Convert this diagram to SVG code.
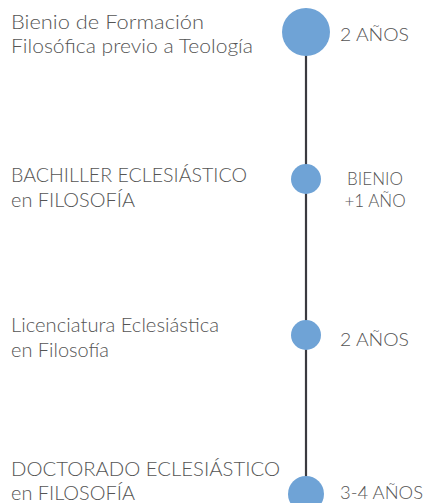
<svg xmlns="http://www.w3.org/2000/svg" width="426" height="503" viewBox="0 0 426 503">
<style>
.t{font-family:"Lato","Open Sans","Liberation Sans",sans-serif;font-weight:300;fill:#555555;font-size:19px}
.d{font-family:"Lato","Open Sans","Liberation Sans",sans-serif;font-weight:300;fill:#555555;font-size:17px}
.n{fill:#6fa3d6}
</style>
<rect width="426" height="503" fill="#ffffff"/>
<g id="connectors">
<line x1="306" y1="50" x2="306" y2="503" stroke="#3a3a40" stroke-width="2.2"/>
</g>
<g id="node1">
<circle class="n" cx="306" cy="32" r="24"/>
<text class="t" x="11" y="29" textLength="193" lengthAdjust="spacingAndGlyphs">Bienio de Formación</text>
<text class="t" x="11" y="53" textLength="242" lengthAdjust="spacingAndGlyphs">Filosófica previo a Teología</text>
<text class="d" x="340" y="41" textLength="69" lengthAdjust="spacingAndGlyphs">2 AÑOS</text>
</g>
<g id="node2">
<circle class="n" cx="306" cy="179" r="15"/>
<text class="t" x="11" y="182" textLength="236" lengthAdjust="spacingAndGlyphs">BACHILLER ECLESIÁSTICO</text>
<text class="t" x="11" y="207" textLength="124" lengthAdjust="spacingAndGlyphs">en FILOSOFÍA</text>
<text class="d" x="375" y="185" text-anchor="middle">BIENIO</text>
<text class="d" x="375" y="207" text-anchor="middle">+1 AÑO</text>
</g>
<g id="node3">
<circle class="n" cx="306" cy="335" r="15"/>
<text class="t" x="11" y="332" textLength="208" lengthAdjust="spacingAndGlyphs">Licenciatura Eclesiástica</text>
<text class="t" x="11" y="357" textLength="98" lengthAdjust="spacingAndGlyphs">en Filosofía</text>
<text class="d" x="340" y="346" textLength="69" lengthAdjust="spacingAndGlyphs">2 AÑOS</text>
</g>
<g id="node4">
<circle class="n" cx="306" cy="494" r="18"/>
<text class="t" x="11" y="476" textLength="269" lengthAdjust="spacingAndGlyphs">DOCTORADO ECLESIÁSTICO</text>
<text class="t" x="11" y="500" textLength="124" lengthAdjust="spacingAndGlyphs">en FILOSOFÍA</text>
<text class="d" x="340" y="499" textLength="83" lengthAdjust="spacingAndGlyphs">3-4 AÑOS</text>
</g>
</svg>
